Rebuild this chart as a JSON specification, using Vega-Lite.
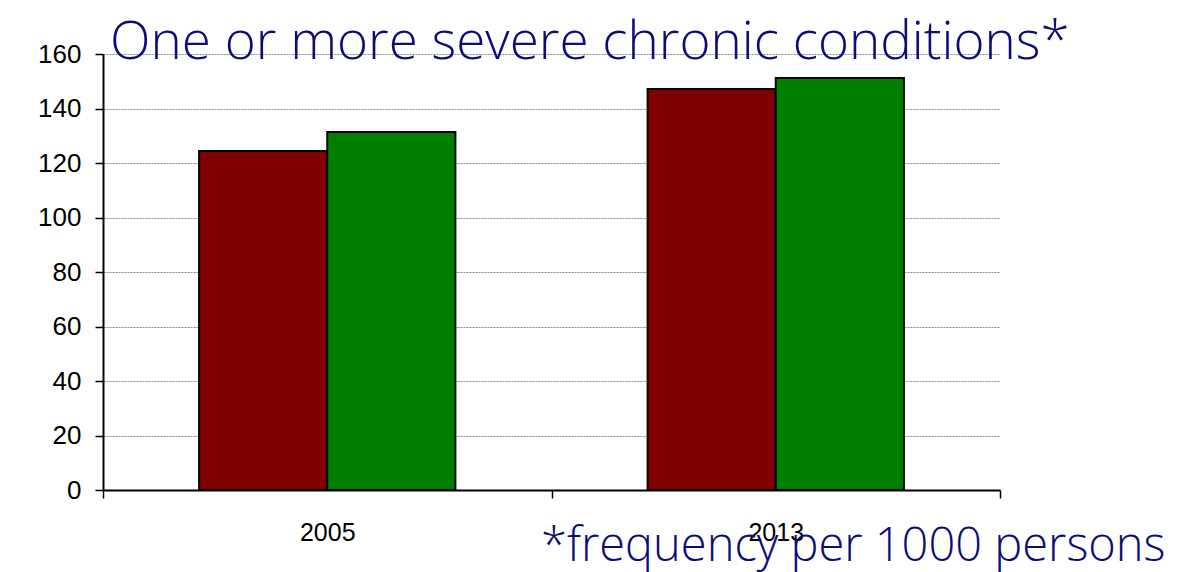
{
  "$schema": "https://vega.github.io/schema/vega-lite/v6.json",
  "autosize": {"type": "none"},
  "padding": {"left": 103, "top": 54, "right": 180, "bottom": 82},
  "width": 897,
  "height": 436,
  "background": "white",
  "title": {
    "text": "One or more severe chronic conditions*",
    "anchor": "start",
    "frame": "group",
    "orient": "top",
    "baseline": "alphabetic",
    "offset": -7,
    "dy": 64,
    "dx": 7,
    "font": "Open Sans",
    "fontWeight": 300,
    "fontSize": 53,
    "color": "#0c0c78"
  },
  "data": {
    "values": [
      {"year": "2005", "series": "A", "value": 124.4},
      {"year": "2005", "series": "B", "value": 131.4},
      {"year": "2013", "series": "A", "value": 147.2},
      {"year": "2013", "series": "B", "value": 151.2}
    ]
  },
  "mark": {"type": "bar", "stroke": "black", "strokeWidth": 2},
  "encoding": {
    "x": {
      "field": "year",
      "type": "nominal",
      "scale": {"paddingInner": 0, "paddingOuter": 0},
      "axis": {
        "title": "*frequency per 1000 persons",
        "titleFont": "Open Sans",
        "titleFontWeight": 300,
        "titleFontSize": 47,
        "titleColor": "#0c0c78",
        "titleAnchor": "end",
        "titleAlign": "right",
        "titleBaseline": "alphabetic",
        "titleX": 1062,
        "titleY": 70,
        "labelAngle": 0,
        "labelFont": "Liberation Sans",
        "labelFontSize": 25,
        "labelColor": "black",
        "labelPadding": 22,
        "tickBand": "extent",
        "tickSize": 8,
        "tickColor": "black",
        "tickWidth": 1.5,
        "domainColor": "black",
        "domainWidth": 2,
        "grid": false
      }
    },
    "xOffset": {
      "field": "series",
      "scale": {"paddingInner": 0, "paddingOuter": 0.75}
    },
    "y": {
      "field": "value",
      "type": "quantitative",
      "scale": {"domain": [0, 160], "nice": false},
      "axis": {
        "title": null,
        "values": [0, 20, 40, 60, 80, 100, 120, 140, 160],
        "labelFont": "Liberation Sans",
        "labelFontSize": 26,
        "labelColor": "black",
        "labelPadding": 14,
        "tickSize": 8,
        "tickColor": "black",
        "tickWidth": 1.5,
        "domainColor": "black",
        "domainWidth": 2,
        "grid": true,
        "gridColor": "#8a8a8a",
        "gridDash": [2, 1],
        "gridWidth": 1
      }
    },
    "color": {
      "field": "series",
      "scale": {"domain": ["A", "B"], "range": ["#800000", "#008000"]},
      "legend": null
    }
  },
  "config": {"view": {"stroke": null}, "bar": {"opacity": 1}}
}
